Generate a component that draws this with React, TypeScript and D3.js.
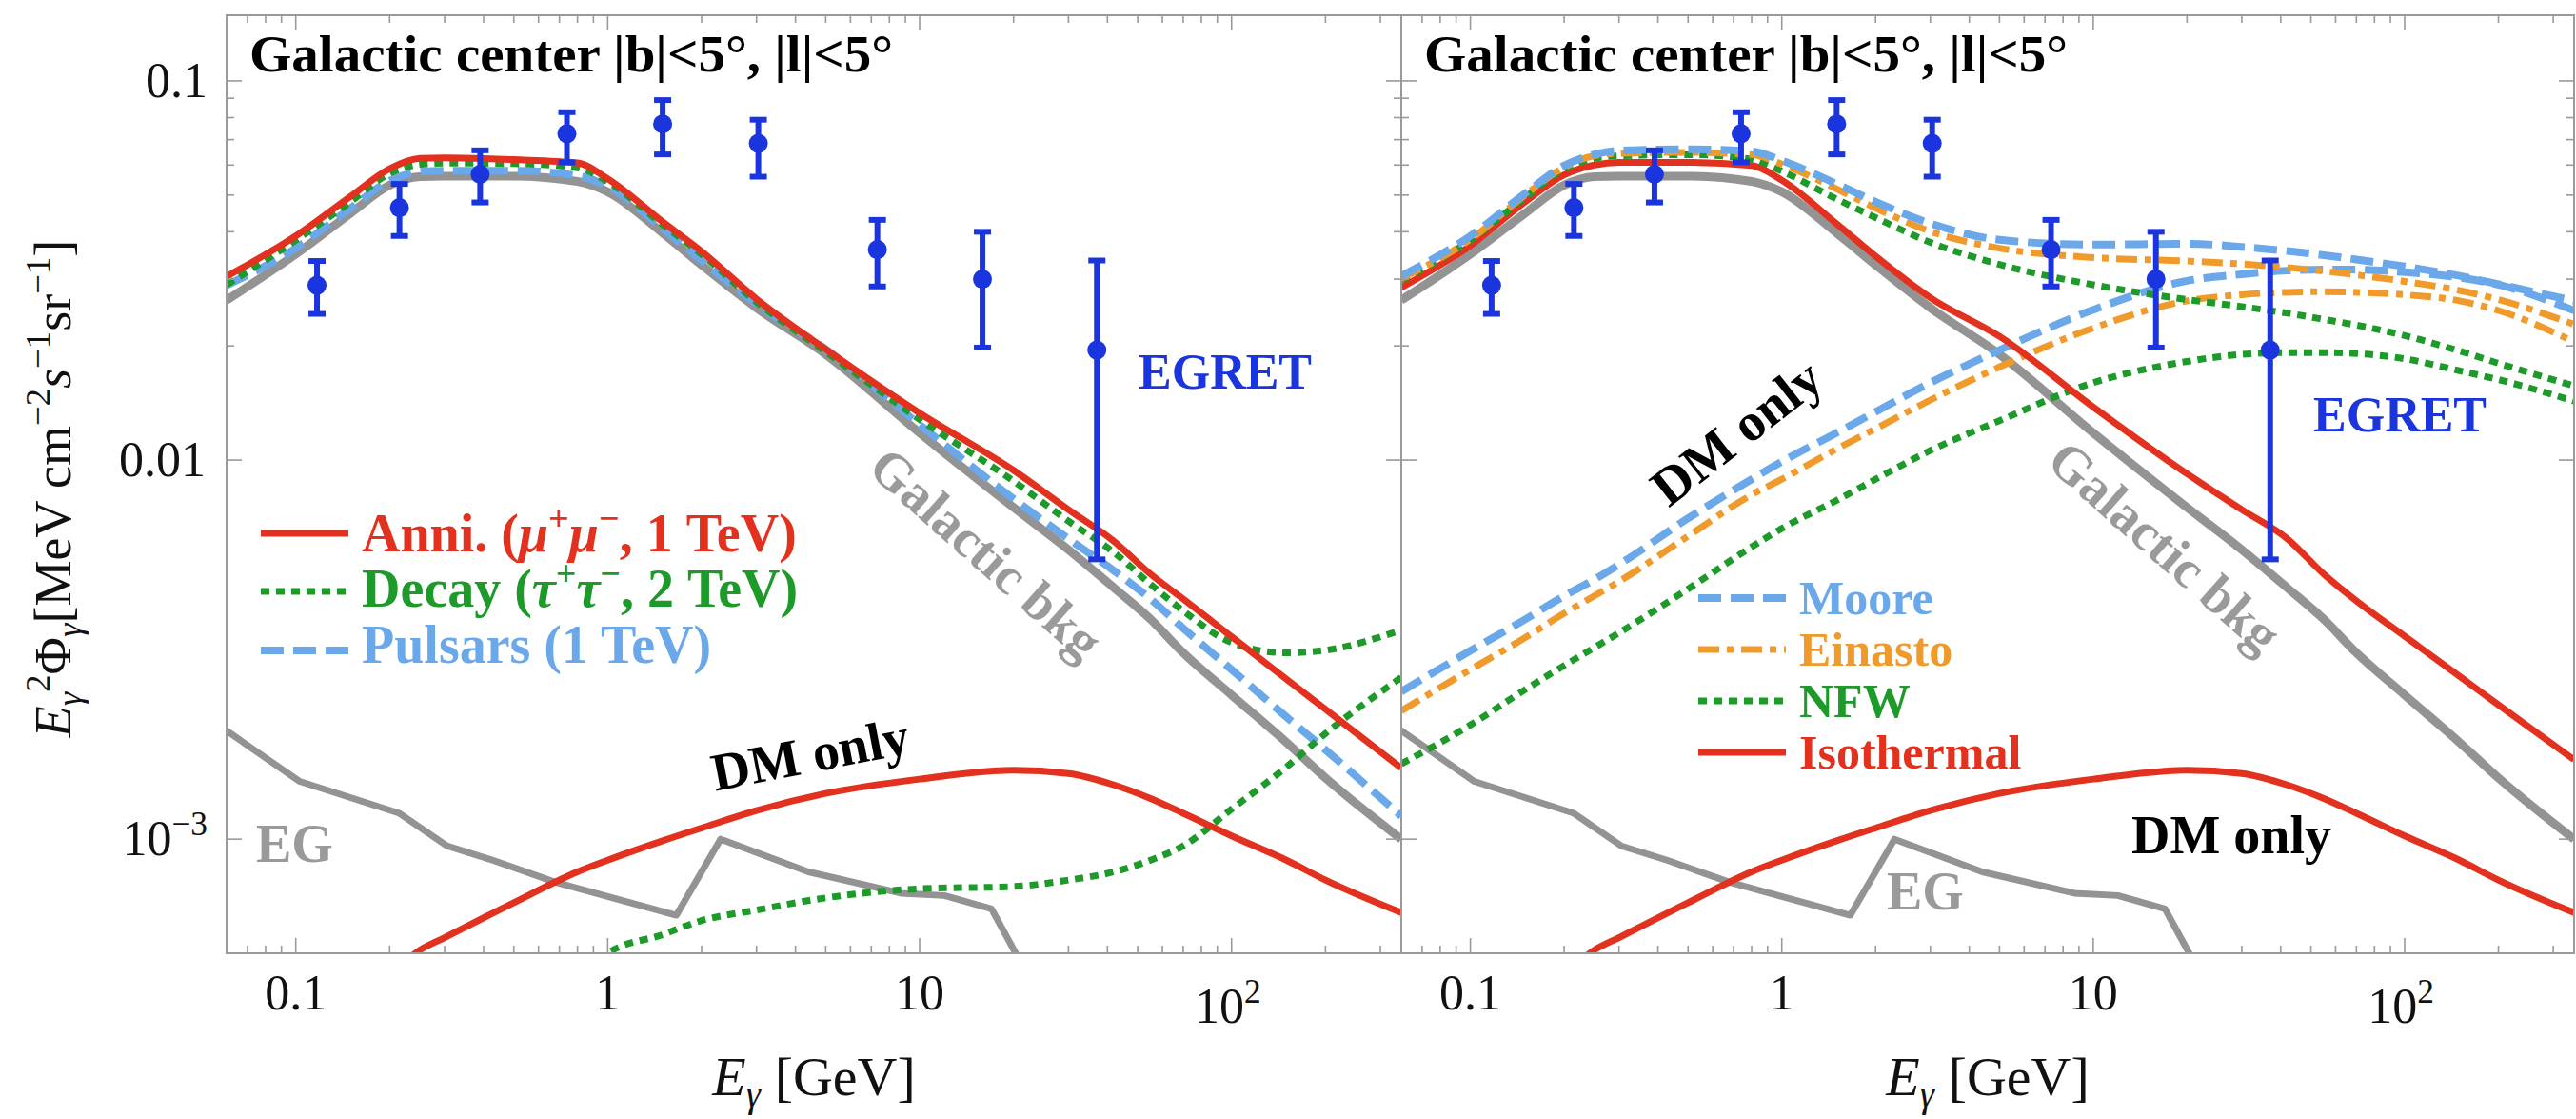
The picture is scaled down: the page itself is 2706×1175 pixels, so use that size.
import React from 'react';
import * as d3 from 'd3';

// energy grid (GeV) shared by the model curves
const energyGrid = [0.06, 0.1, 0.15, 0.2, 0.25, 0.3, 0.5, 0.8, 1, 1.5, 2, 3, 5, 10, 20, 30, 42, 55, 70, 100, 150, 200, 350];

// left panel: total spectra (E^2 Phi, MeV cm^-2 s^-1 sr^-1)
const anniTotal = [0.0305, 0.039, 0.0496, 0.0587, 0.0625, 0.0627, 0.062, 0.0608, 0.0552, 0.0425, 0.0355, 0.0266, 0.0196, 0.0133, 0.0094, 0.0074, 0.0061, 0.005, 0.0043, 0.00342, 0.00264, 0.0022, 0.00154];
const decayTotal = [0.029, 0.038, 0.048, 0.057, 0.0602, 0.0607, 0.0605, 0.059, 0.0542, 0.0418, 0.0349, 0.0261, 0.0193, 0.0128, 0.0088, 0.0069, 0.0057, 0.0047, 0.004, 0.0033, 0.0031, 0.00315, 0.00356];
const pulsarTotal = [0.0289, 0.0362, 0.0462, 0.0545, 0.0576, 0.058, 0.058, 0.0562, 0.0527, 0.0408, 0.0336, 0.0258, 0.0196, 0.0124, 0.0079, 0.0062, 0.0051, 0.0043, 0.0036, 0.0028, 0.0021, 0.00172, 0.00115];
const galacticBkg = [0.0264, 0.0349, 0.0448, 0.0531, 0.0559, 0.0561, 0.0561, 0.0543, 0.051, 0.0397, 0.0327, 0.0252, 0.019, 0.0118, 0.0075, 0.0058, 0.0046, 0.0038, 0.0031, 0.0024, 0.0018, 0.00145, 0.001];

// DM only components
const anniDMOnly = [null, null, 0.00038, 0.00044, 0.00051, 0.00055, 0.00068, 0.00082, 0.00088, 0.00099, 0.00107, 0.00119, 0.00132, 0.00144, 0.00152, 0.00149, 0.00139, 0.00128, 0.00117, 0.00102, 0.00088, 0.00078, 0.00064];
const decayDMOnly = [null, null, null, null, null, null, null, 0.00042, 0.0005, 0.00056, 0.00061, 0.00065, 0.0007, 0.00074, 0.00075, 0.00078, 0.00082, 0.00088, 0.00096, 0.0012, 0.00155, 0.0019, 0.00267];

// right panel: halo profiles
const isoTotal = [0.0285, 0.0368, 0.048, 0.0565, 0.06, 0.061, 0.061, 0.0598, 0.0547, 0.042, 0.0345, 0.0268, 0.0212, 0.0138, 0.0092, 0.0074, 0.0062, 0.005, 0.00425, 0.00343, 0.00269, 0.00226, 0.00162];
const mooreTotal = [0.0306, 0.039, 0.0505, 0.0598, 0.064, 0.0655, 0.066, 0.0652, 0.0617, 0.0535, 0.048, 0.0421, 0.0381, 0.037, 0.0372, 0.0365, 0.0356, 0.0347, 0.0338, 0.0324, 0.0306, 0.0291, 0.0263];
const einastoTotal = [0.0301, 0.0382, 0.05, 0.0592, 0.0635, 0.0644, 0.0648, 0.0639, 0.0603, 0.0519, 0.0462, 0.0401, 0.0362, 0.0342, 0.0335, 0.0329, 0.0322, 0.0315, 0.0308, 0.0296, 0.028, 0.0265, 0.0228];
const nfwTotal = [0.0298, 0.038, 0.0493, 0.0585, 0.0625, 0.0634, 0.0639, 0.0622, 0.0578, 0.0488, 0.0436, 0.0375, 0.0328, 0.029, 0.0265, 0.0254, 0.0244, 0.0235, 0.0227, 0.0213, 0.0194, 0.018, 0.0157];
const mooreDM = [0.00245, 0.00314, 0.0038, 0.00438, 0.00484, 0.0053, 0.00702, 0.0089, 0.0099, 0.0118, 0.0134, 0.016, 0.0195, 0.0249, 0.0297, 0.0309, 0.0316, 0.0318, 0.0318, 0.0313, 0.0303, 0.029, 0.0248];
const einastoDM = [0.00218, 0.0028, 0.0034, 0.00394, 0.00438, 0.00478, 0.0063, 0.0081, 0.0089, 0.0107, 0.0121, 0.0144, 0.0176, 0.0223, 0.0263, 0.0273, 0.0277, 0.0278, 0.0277, 0.0273, 0.0263, 0.0248, 0.0205];
const nfwDM = [0.00158, 0.002, 0.00248, 0.00287, 0.0032, 0.0035, 0.00457, 0.0059, 0.0066, 0.00783, 0.0089, 0.0106, 0.0127, 0.016, 0.0182, 0.019, 0.0192, 0.0192, 0.0191, 0.0185, 0.0172, 0.0163, 0.0143];

// extragalactic background (piecewise)
const egEnergy = [0.059, 0.103, 0.215, 0.305, 0.428, 0.68, 1.66, 2.3, 4.4, 8.7, 12, 17, 20.6];
const egFlux = [0.00195, 0.00142, 0.00117, 0.00096, 0.00088, 0.00077, 0.00063, 0.001, 0.00082, 0.00072, 0.00071, 0.000655, 0.00049];

// EGRET data
const egretEnergy = [0.117, 0.215, 0.39, 0.74, 1.5, 3.04, 7.32, 15.9, 37];
const egretFlux = [0.0289, 0.0463, 0.0567, 0.0726, 0.077, 0.0684, 0.0359, 0.03, 0.0195];
const egretLow = [0.0243, 0.039, 0.0478, 0.061, 0.064, 0.0559, 0.0287, 0.0198, 0.00547];
const egretHigh = [0.0335, 0.0535, 0.0656, 0.0827, 0.089, 0.079, 0.043, 0.04, 0.0336];

const xTicks = [0.1, 1, 10, 100];
const yTicks = [0.1, 0.01, 0.001];

const W = 2706;
const H = 1175;
const TOP = 16;
const BOTTOM = 1001;
const PANELS: [number, number][] = [[238, 1472], [1472, 2704]];
const FONT = "'Liberation Serif', Tinos, 'Times New Roman', Times, 'DejaVu Serif', serif";

const RED = '#e2321f';
const GREEN = '#1e9a2b';
const LBLUE = '#6aa8ea';
const ORANGE = '#f09a2c';
const GRAY = '#939393';
const BLUE = '#1b35de';
const FRAME = '#9a9a9a';

const y = d3.scaleLog().domain([5e-4, 0.149]).range([BOTTOM, TOP]);
const makeX = (i: number) => d3.scaleLog().domain([0.06, 350]).range(PANELS[i]);

type Seg = { t: string; sup?: boolean; sub?: boolean; it?: boolean };

function rich(segs: Seg[], fs: number) {
  let prev = 0;
  return segs.map((s, i) => {
    const shift = s.sup ? -0.4 * fs : s.sub ? 0.2 * fs : 0;
    const dy = shift - prev;
    prev = shift;
    return (
      <tspan key={i} dy={dy} fontSize={s.sup || s.sub ? fs * 0.68 : fs} fontStyle={s.it ? 'italic' : 'normal'}>
        {s.t}
      </tspan>
    );
  });
}

function curvePath(x: any, values: (number | null)[], energies = energyGrid, curve: any = d3.curveMonotoneX) {
  const pts = energies.map((e, i) => [e, values[i]] as [number, number | null]);
  return d3
    .line<[number, number | null]>()
    .defined(d => d[1] != null)
    .x(d => x(d[0]))
    .y(d => y(d[1] as number))
    .curve(curve)(pts) as string;
}

const minorX: number[] = [];
const minorY: number[] = [];
for (let p = -2; p <= 3; p++) {
  for (let k = 2; k <= 9; k++) {
    const v = k * Math.pow(10, p);
    if (v > 0.06 && v < 350) minorX.push(v);
    if (v > 5e-4 && v < 0.149) minorY.push(v);
  }
}

const styles = {
  red: { stroke: RED, strokeWidth: 7 },
  green: { stroke: GREEN, strokeWidth: 7, strokeDasharray: '9 7' },
  lblue: { stroke: LBLUE, strokeWidth: 8, strokeDasharray: '24 10' },
  orange: { stroke: ORANGE, strokeWidth: 7, strokeDasharray: '22 8 7 8' },
  gray: { stroke: GRAY, strokeWidth: 9 },
};

function Frame({ i }: { i: number }) {
  const [x0, x1] = PANELS[i];
  const x = makeX(i);
  const t = [] as JSX.Element[];
  xTicks.forEach((v, k) => {
    t.push(<line key={'xb' + k} x1={x(v)} x2={x(v)} y1={BOTTOM} y2={BOTTOM - 16} />);
    t.push(<line key={'xt' + k} x1={x(v)} x2={x(v)} y1={TOP} y2={TOP + 16} />);
  });
  minorX.forEach((v, k) => {
    t.push(<line key={'mxb' + k} x1={x(v)} x2={x(v)} y1={BOTTOM} y2={BOTTOM - 8} />);
    t.push(<line key={'mxt' + k} x1={x(v)} x2={x(v)} y1={TOP} y2={TOP + 8} />);
  });
  yTicks.forEach((v, k) => {
    t.push(<line key={'yl' + k} x1={x0} x2={x0 + 16} y1={y(v)} y2={y(v)} />);
    t.push(<line key={'yr' + k} x1={x1} x2={x1 - 16} y1={y(v)} y2={y(v)} />);
  });
  minorY.forEach((v, k) => {
    t.push(<line key={'myl' + k} x1={x0} x2={x0 + 8} y1={y(v)} y2={y(v)} />);
    t.push(<line key={'myr' + k} x1={x1} x2={x1 - 8} y1={y(v)} y2={y(v)} />);
  });
  return (
    <g stroke={FRAME} strokeWidth={1.6} fill="none">
      {t}
      <rect x={x0} y={TOP} width={x1 - x0} height={BOTTOM - TOP} strokeWidth={2} />
    </g>
  );
}

function XLabels({ i }: { i: number }) {
  const x = makeX(i);
  const [x0, x1] = PANELS[i];
  return (
    <g fill="#111">
      {xTicks.map((v, k) =>
        v === 100 ? (
          <text key={k} x={x(v) - 4} y={1074} fontSize={52} textAnchor="middle">
            {rich([{ t: '10' }, { t: '2', sup: true }], 52)}
          </text>
        ) : (
          <text key={k} x={x(v)} y={1060} fontSize={52} textAnchor="middle">
            {String(v)}
          </text>
        )
      )}
      <text x={(x0 + x1) / 2} y={1150} fontSize={58} textAnchor="middle">
        {rich([{ t: 'E', it: true }, { t: 'γ', sub: true, it: true }, { t: ' [GeV]' }], 58)}
      </text>
    </g>
  );
}

function EgretPoints({ i }: { i: number }) {
  const x = makeX(i);
  return (
    <g stroke={BLUE} fill={BLUE}>
      {egretEnergy.map((e, k) => (
        <g key={k}>
          <line x1={x(e)} x2={x(e)} y1={y(egretLow[k])} y2={y(egretHigh[k])} strokeWidth={6} />
          <line x1={x(e) - 9} x2={x(e) + 9} y1={y(egretLow[k])} y2={y(egretLow[k])} strokeWidth={6} />
          <line x1={x(e) - 9} x2={x(e) + 9} y1={y(egretHigh[k])} y2={y(egretHigh[k])} strokeWidth={6} />
          <circle cx={x(e)} cy={y(egretFlux[k])} r={10} stroke="none" />
        </g>
      ))}
    </g>
  );
}

function LegendRow({ x, yLine, yText, style, color, segs, fs }: any) {
  return (
    <g>
      <line x1={x} x2={x + 92} y1={yLine} y2={yLine} {...style} />
      <text x={x + 106} y={yText} fontSize={fs} fontWeight="bold" fill={color}>
        {rich(segs, fs)}
      </text>
    </g>
  );
}

export default function App() {
  const xL = makeX(0);
  const xR = makeX(1);
  const title = 'Galactic center |b|<5°, |l|<5°';
  return (
    <svg
      width={W}
      height={H}
      viewBox={`0 0 ${W} ${H}`}
      fontFamily={FONT}
      style={{ position: 'absolute', left: 0, top: 0, display: 'block', fontFamily: FONT }}
    >
      <rect width={W} height={H} fill="#fff" />
      <defs>
        {PANELS.map(([a, b], i) => (
          <clipPath id={'clip' + i} key={i}>
            <rect x={a} y={TOP} width={b - a} height={BOTTOM - TOP} />
          </clipPath>
        ))}
      </defs>

      {/* left panel curves */}
      <g clipPath="url(#clip0)" fill="none" strokeLinejoin="round">
        <path d={curvePath(xL, egFlux, egEnergy, d3.curveLinear)} {...styles.gray} strokeWidth={7} />
        <path d={curvePath(xL, galacticBkg)} {...styles.gray} />
        <path d={curvePath(xL, pulsarTotal)} {...styles.lblue} />
        <path d={curvePath(xL, decayDMOnly)} {...styles.green} />
        <path d={curvePath(xL, anniDMOnly)} {...styles.red} />
        <path d={curvePath(xL, decayTotal)} {...styles.green} />
        <path d={curvePath(xL, anniTotal)} {...styles.red} />
      </g>

      {/* right panel curves */}
      <g clipPath="url(#clip1)" fill="none" strokeLinejoin="round">
        <path d={curvePath(xR, egFlux, egEnergy, d3.curveLinear)} {...styles.gray} strokeWidth={7} />
        <path d={curvePath(xR, galacticBkg)} {...styles.gray} />
        <path d={curvePath(xR, anniDMOnly)} {...styles.red} />
        <path d={curvePath(xR, nfwDM)} {...styles.green} />
        <path d={curvePath(xR, einastoDM)} {...styles.orange} />
        <path d={curvePath(xR, mooreDM)} {...styles.lblue} />
        <path d={curvePath(xR, isoTotal)} {...styles.red} />
        <path d={curvePath(xR, nfwTotal)} {...styles.green} />
        <path d={curvePath(xR, einastoTotal)} {...styles.orange} />
        <path d={curvePath(xR, mooreTotal)} {...styles.lblue} />
      </g>

      <Frame i={0} />
      <Frame i={1} />
      <EgretPoints i={0} />
      <EgretPoints i={1} />

      {/* titles */}
      {PANELS.map(([a], i) => (
        <text key={i} x={a + 24} y={75} fontSize={54} fontWeight="bold" textLength={676} lengthAdjust="spacingAndGlyphs">
          {title}
        </text>
      ))}

      {/* y axis */}
      <g fill="#111" fontSize={52} textAnchor="end">
        <text x={218} y={y(0.1) + 17}>0.1</text>
        <text x={216} y={y(0.01) + 17}>0.01</text>
        <text x={218} y={y(0.001) + 17}>{rich([{ t: '10' }, { t: '−3', sup: true }], 52)}</text>
      </g>
      <text transform="translate(74,513) rotate(-90)" textAnchor="middle" fontSize={54} fill="#111">
        {rich(
          [
            { t: 'E', it: true },
            { t: 'γ', sub: true, it: true },
            { t: '2', sup: true },
            { t: 'Φ' },
            { t: 'γ', sub: true, it: true },
            { t: '[MeV cm' },
            { t: '−2', sup: true },
            { t: 's', it: true },
            { t: '−1', sup: true },
            { t: 'sr' },
            { t: '−1', sup: true },
            { t: ']' },
          ],
          54
        )}
      </text>

      <XLabels i={0} />
      <XLabels i={1} />

      {/* annotations */}
      <g fontWeight="bold">
        <text x={1196} y={408} fontSize={52} fill={BLUE}>EGRET</text>
        <text x={2430} y={453} fontSize={52} fill={BLUE}>EGRET</text>
        <text x={269} y={905} fontSize={56} fill="#9a9a9a">EG</text>
        <text x={1982} y={955} fontSize={56} fill="#9a9a9a">EG</text>
        <text transform="translate(1036,581) rotate(41.5)" textAnchor="middle" dominantBaseline="central" fontSize={56} fill="#9a9a9a">Galactic bkg</text>
        <text transform="translate(2274,574) rotate(41.5)" textAnchor="middle" dominantBaseline="central" fontSize={56} fill="#9a9a9a">Galactic bkg</text>
        <text transform="translate(851,792) rotate(-11)" textAnchor="middle" dominantBaseline="central" fontSize={56} fill="#000">DM only</text>
        <text transform="translate(1824,454) rotate(-38)" textAnchor="middle" dominantBaseline="central" fontSize={56} fill="#000">DM only</text>
        <text x={2239} y={896} fontSize={56} fill="#000">DM only</text>
      </g>

      {/* legends */}
      <LegendRow x={274} yLine={560} yText={579} style={styles.red} color={RED} fs={56}
        segs={[{ t: 'Anni. (' }, { t: 'μ', it: true }, { t: '+', sup: true }, { t: 'μ', it: true }, { t: '−', sup: true }, { t: ', 1 TeV)' }]} />
      <LegendRow x={274} yLine={621} yText={637} style={styles.green} color={GREEN} fs={56}
        segs={[{ t: 'Decay (' }, { t: 'τ', it: true }, { t: '+', sup: true }, { t: 'τ', it: true }, { t: '−', sup: true }, { t: ', 2 TeV)' }]} />
      <LegendRow x={274} yLine={683} yText={696} style={styles.lblue} color={LBLUE} fs={56}
        segs={[{ t: 'Pulsars (1 TeV)' }]} />

      <LegendRow x={1784} yLine={628} yText={645} style={styles.lblue} color={LBLUE} fs={50} segs={[{ t: 'Moore' }]} />
      <LegendRow x={1784} yLine={682} yText={699} style={styles.orange} color={ORANGE} fs={50} segs={[{ t: 'Einasto' }]} />
      <LegendRow x={1784} yLine={736} yText={753} style={styles.green} color={GREEN} fs={50} segs={[{ t: 'NFW' }]} />
      <LegendRow x={1784} yLine={790} yText={807} style={styles.red} color={RED} fs={50} segs={[{ t: 'Isothermal' }]} />
    </svg>
  );
}
